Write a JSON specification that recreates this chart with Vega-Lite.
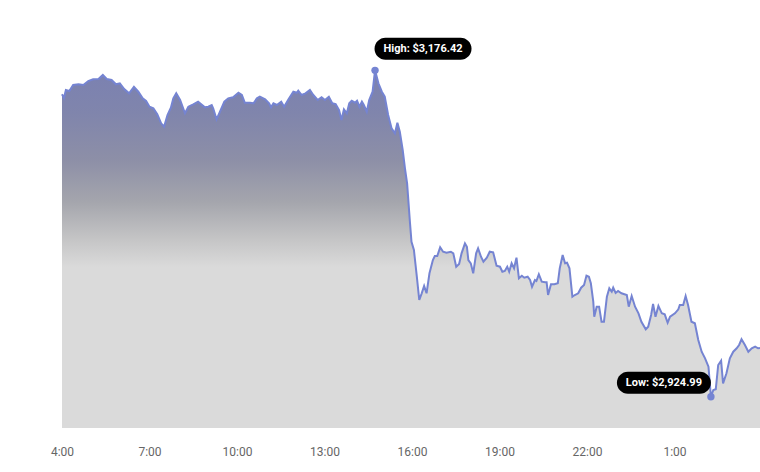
{
  "$schema": "https://vega.github.io/schema/vega-lite/v6.json",
  "width": 698,
  "height": 408,
  "autosize": {"type": "none"},
  "padding": {"left": 62, "top": 20, "right": 0, "bottom": 44},
  "background": "#ffffff",
  "config": {"view": {"stroke": null}, "font": "Roboto"},
  "data": {"values": [
    {"t":"2024-01-01T04:00","p":3157.95},{"t":"2024-01-01T04:04","p":3155.10},{"t":"2024-01-01T04:08","p":3161.26},{"t":"2024-01-01T04:15","p":3160.49},{"t":"2024-01-01T04:23","p":3165.11},{"t":"2024-01-01T04:34","p":3165.65},{"t":"2024-01-01T04:44","p":3165.11},{"t":"2024-01-01T04:54","p":3168.19},{"t":"2024-01-01T05:04","p":3169.50},{"t":"2024-01-01T05:15","p":3169.73},{"t":"2024-01-01T05:24","p":3172.82},{"t":"2024-01-01T05:32","p":3169.73},{"t":"2024-01-01T05:42","p":3168.96},{"t":"2024-01-01T05:51","p":3165.65},{"t":"2024-01-01T05:59","p":3166.42},{"t":"2024-01-01T06:08","p":3162.03},{"t":"2024-01-01T06:18","p":3158.72},{"t":"2024-01-01T06:28","p":3163.80},{"t":"2024-01-01T06:37","p":3159.95},{"t":"2024-01-01T06:46","p":3154.87},{"t":"2024-01-01T06:53","p":3152.79},{"t":"2024-01-01T07:00","p":3148.40},{"t":"2024-01-01T07:08","p":3147.16},{"t":"2024-01-01T07:16","p":3142.54},{"t":"2024-01-01T07:24","p":3135.61},{"t":"2024-01-01T07:30","p":3132.99},{"t":"2024-01-01T07:37","p":3142.00},{"t":"2024-01-01T07:44","p":3147.63},{"t":"2024-01-01T07:49","p":3154.87},{"t":"2024-01-01T07:55","p":3158.72},{"t":"2024-01-01T08:03","p":3153.56},{"t":"2024-01-01T08:13","p":3143.32},{"t":"2024-01-01T08:20","p":3148.40},{"t":"2024-01-01T08:30","p":3150.25},{"t":"2024-01-01T08:40","p":3152.25},{"t":"2024-01-01T08:54","p":3147.94},{"t":"2024-01-01T09:01","p":3148.40},{"t":"2024-01-01T09:08","p":3149.71},{"t":"2024-01-01T09:11","p":3147.16},{"t":"2024-01-01T09:18","p":3138.69},{"t":"2024-01-01T09:25","p":3144.54},{"t":"2024-01-01T09:34","p":3152.25},{"t":"2024-01-01T09:42","p":3154.87},{"t":"2024-01-01T09:52","p":3155.64},{"t":"2024-01-01T10:03","p":3159.18},{"t":"2024-01-01T10:10","p":3157.41},{"t":"2024-01-01T10:16","p":3151.48},{"t":"2024-01-01T10:27","p":3151.48},{"t":"2024-01-01T10:34","p":3151.02},{"t":"2024-01-01T10:41","p":3154.87},{"t":"2024-01-01T10:47","p":3156.10},{"t":"2024-01-01T10:58","p":3154.10},{"t":"2024-01-01T11:06","p":3151.02},{"t":"2024-01-01T11:10","p":3147.94},{"t":"2024-01-01T11:15","p":3151.02},{"t":"2024-01-01T11:22","p":3149.71},{"t":"2024-01-01T11:31","p":3152.25},{"t":"2024-01-01T11:37","p":3148.40},{"t":"2024-01-01T11:46","p":3154.10},{"t":"2024-01-01T11:56","p":3159.95},{"t":"2024-01-01T12:03","p":3159.18},{"t":"2024-01-01T12:06","p":3160.72},{"t":"2024-01-01T12:13","p":3157.41},{"t":"2024-01-01T12:21","p":3158.72},{"t":"2024-01-01T12:30","p":3161.26},{"t":"2024-01-01T12:37","p":3157.41},{"t":"2024-01-01T12:46","p":3153.56},{"t":"2024-01-01T12:54","p":3155.64},{"t":"2024-01-01T13:01","p":3153.56},{"t":"2024-01-01T13:09","p":3156.10},{"t":"2024-01-01T13:16","p":3151.02},{"t":"2024-01-01T13:23","p":3150.48},{"t":"2024-01-01T13:30","p":3145.86},{"t":"2024-01-01T13:35","p":3138.15},{"t":"2024-01-01T13:40","p":3146.39},{"t":"2024-01-01T13:46","p":3143.32},{"t":"2024-01-01T13:51","p":3151.02},{"t":"2024-01-01T13:56","p":3153.02},{"t":"2024-01-01T14:03","p":3151.48},{"t":"2024-01-01T14:07","p":3153.02},{"t":"2024-01-01T14:12","p":3148.40},{"t":"2024-01-01T14:17","p":3152.25},{"t":"2024-01-01T14:21","p":3149.71},{"t":"2024-01-01T14:27","p":3144.54},{"t":"2024-01-01T14:32","p":3153.56},{"t":"2024-01-01T14:39","p":3159.95},{"t":"2024-01-01T14:44","p":3176.42,"kind":"High"},{"t":"2024-01-01T14:51","p":3166.42},{"t":"2024-01-01T14:58","p":3159.95},{"t":"2024-01-01T15:04","p":3156.10},{"t":"2024-01-01T15:11","p":3142.00},{"t":"2024-01-01T15:18","p":3131.76},{"t":"2024-01-01T15:25","p":3127.91},{"t":"2024-01-01T15:30","p":3136.07},{"t":"2024-01-01T15:35","p":3129.14},{"t":"2024-01-01T15:41","p":3115.04},{"t":"2024-01-01T15:46","p":3099.64},{"t":"2024-01-01T15:50","p":3089.39},{"t":"2024-01-01T15:56","p":3058.58},{"t":"2024-01-01T15:59","p":3044.41},{"t":"2024-01-01T16:04","p":3038.01},{"t":"2024-01-01T16:10","p":3017.45},{"t":"2024-01-01T16:15","p":2999.50},{"t":"2024-01-01T16:20","p":3004.66},{"t":"2024-01-01T16:25","p":3010.28},{"t":"2024-01-01T16:30","p":3004.66},{"t":"2024-01-01T16:36","p":3020.06},{"t":"2024-01-01T16:43","p":3030.31},{"t":"2024-01-01T16:47","p":3033.39},{"t":"2024-01-01T16:52","p":3033.39},{"t":"2024-01-01T16:58","p":3040.09},{"t":"2024-01-01T17:04","p":3036.70},{"t":"2024-01-01T17:11","p":3035.93},{"t":"2024-01-01T17:20","p":3036.70},{"t":"2024-01-01T17:25","p":3035.47},{"t":"2024-01-01T17:31","p":3025.15},{"t":"2024-01-01T17:37","p":3027.23},{"t":"2024-01-01T17:42","p":3035.47},{"t":"2024-01-01T17:49","p":3043.17},{"t":"2024-01-01T17:53","p":3040.56},{"t":"2024-01-01T17:56","p":3030.31},{"t":"2024-01-01T18:01","p":3027.77},{"t":"2024-01-01T18:06","p":3020.06},{"t":"2024-01-01T18:12","p":3035.47},{"t":"2024-01-01T18:16","p":3039.32},{"t":"2024-01-01T18:22","p":3032.85},{"t":"2024-01-01T18:27","p":3029.00},{"t":"2024-01-01T18:34","p":3032.08},{"t":"2024-01-01T18:40","p":3036.70},{"t":"2024-01-01T18:47","p":3036.24},{"t":"2024-01-01T18:54","p":3025.92},{"t":"2024-01-01T19:01","p":3025.15},{"t":"2024-01-01T19:06","p":3021.30},{"t":"2024-01-01T19:11","p":3021.84},{"t":"2024-01-01T19:16","p":3025.15},{"t":"2024-01-01T19:20","p":3021.30},{"t":"2024-01-01T19:25","p":3027.77},{"t":"2024-01-01T19:30","p":3023.92},{"t":"2024-01-01T19:35","p":3032.08},{"t":"2024-01-01T19:40","p":3016.21},{"t":"2024-01-01T19:46","p":3018.22},{"t":"2024-01-01T19:51","p":3016.68},{"t":"2024-01-01T19:58","p":3017.45},{"t":"2024-01-01T20:03","p":3014.90},{"t":"2024-01-01T20:07","p":3009.74},{"t":"2024-01-01T20:13","p":3014.90},{"t":"2024-01-01T20:16","p":3014.13},{"t":"2024-01-01T20:21","p":3019.30},{"t":"2024-01-01T20:27","p":3013.59},{"t":"2024-01-01T20:34","p":3013.13},{"t":"2024-01-01T20:37","p":3013.13},{"t":"2024-01-01T20:40","p":3003.35},{"t":"2024-01-01T20:46","p":3011.59},{"t":"2024-01-01T20:53","p":3011.59},{"t":"2024-01-01T21:00","p":3012.36},{"t":"2024-01-01T21:04","p":3023.92},{"t":"2024-01-01T21:10","p":3034.16},{"t":"2024-01-01T21:15","p":3027.77},{"t":"2024-01-01T21:19","p":3028.23},{"t":"2024-01-01T21:24","p":3023.92},{"t":"2024-01-01T21:30","p":3002.04},{"t":"2024-01-01T21:35","p":3003.35},{"t":"2024-01-01T21:42","p":3004.66},{"t":"2024-01-01T21:48","p":3008.97},{"t":"2024-01-01T21:54","p":3011.05},{"t":"2024-01-01T21:59","p":3018.22},{"t":"2024-01-01T22:04","p":3017.45},{"t":"2024-01-01T22:08","p":3012.36},{"t":"2024-01-01T22:13","p":2998.19},{"t":"2024-01-01T22:15","p":2986.64},{"t":"2024-01-01T22:20","p":2994.34},{"t":"2024-01-01T22:25","p":2994.34},{"t":"2024-01-01T22:30","p":2982.78},{"t":"2024-01-01T22:35","p":2982.78},{"t":"2024-01-01T22:41","p":3002.04},{"t":"2024-01-01T22:46","p":3008.51},{"t":"2024-01-01T22:51","p":3005.89},{"t":"2024-01-01T22:54","p":3008.97},{"t":"2024-01-01T22:59","p":3004.89},{"t":"2024-01-01T23:04","p":3006.43},{"t":"2024-01-01T23:11","p":3004.66},{"t":"2024-01-01T23:22","p":3003.35},{"t":"2024-01-01T23:26","p":2994.34},{"t":"2024-01-01T23:32","p":3002.58},{"t":"2024-01-01T23:39","p":2994.34},{"t":"2024-01-01T23:46","p":2989.25},{"t":"2024-01-01T23:52","p":2982.78},{"t":"2024-01-02T00:01","p":2976.93},{"t":"2024-01-02T00:06","p":2978.93},{"t":"2024-01-02T00:12","p":2987.94},{"t":"2024-01-02T00:16","p":2996.42},{"t":"2024-01-02T00:21","p":2986.64},{"t":"2024-01-02T00:27","p":2994.88},{"t":"2024-01-02T00:34","p":2989.25},{"t":"2024-01-02T00:40","p":2988.48},{"t":"2024-01-02T00:46","p":2982.01},{"t":"2024-01-02T00:51","p":2986.64},{"t":"2024-01-02T01:01","p":2989.25},{"t":"2024-01-02T01:08","p":2992.33},{"t":"2024-01-02T01:11","p":2995.65},{"t":"2024-01-02T01:18","p":2995.65},{"t":"2024-01-02T01:23","p":3002.58},{"t":"2024-01-02T01:28","p":2995.65},{"t":"2024-01-02T01:35","p":2982.78},{"t":"2024-01-02T01:42","p":2981.55},{"t":"2024-01-02T01:49","p":2968.69},{"t":"2024-01-02T01:56","p":2959.67},{"t":"2024-01-02T02:03","p":2954.59},{"t":"2024-01-02T02:10","p":2948.12},{"t":"2024-01-02T02:15","p":2924.99,"kind":"Low"},{"t":"2024-01-02T02:20","p":2930.17},{"t":"2024-01-02T02:25","p":2930.71},{"t":"2024-01-02T02:30","p":2949.43},{"t":"2024-01-02T02:36","p":2952.74},{"t":"2024-01-02T02:40","p":2935.33},{"t":"2024-01-02T02:47","p":2943.04},{"t":"2024-01-02T02:54","p":2954.59},{"t":"2024-01-02T03:01","p":2959.67},{"t":"2024-01-02T03:08","p":2962.29},{"t":"2024-01-02T03:13","p":2964.83},{"t":"2024-01-02T03:18","p":2969.23},{"t":"2024-01-02T03:25","p":2964.83},{"t":"2024-01-02T03:32","p":2959.67},{"t":"2024-01-02T03:39","p":2962.29},{"t":"2024-01-02T03:46","p":2963.53},{"t":"2024-01-02T03:52","p":2962.29},{"t":"2024-01-02T03:56","p":2962.52}
  ]},
  "encoding": {
    "x": {
      "field": "t", "type": "temporal",
      "scale": {"domain": [{"year": 2024, "month": 1, "date": 1, "hours": 4}, {"year": 2024, "month": 1, "date": 2, "hours": 3, "minutes": 56}], "nice": false},
      "axis": {
        "title": null, "ticks": false, "domain": false, "grid": false,
        "format": "%-H:%M", "labelFont": "Roboto", "labelFontSize": 12, "labelColor": "#666666",
        "labelPadding": 18, "labelFlush": false, "labelOverlap": false,
        "values": [
          {"year": 2024, "month": 1, "date": 1, "hours": 4},
          {"year": 2024, "month": 1, "date": 1, "hours": 7},
          {"year": 2024, "month": 1, "date": 1, "hours": 10},
          {"year": 2024, "month": 1, "date": 1, "hours": 13},
          {"year": 2024, "month": 1, "date": 1, "hours": 16},
          {"year": 2024, "month": 1, "date": 1, "hours": 19},
          {"year": 2024, "month": 1, "date": 1, "hours": 22},
          {"year": 2024, "month": 1, "date": 2, "hours": 1}
        ]
      }
    },
    "y": {
      "field": "p", "type": "quantitative",
      "scale": {"domain": [2900.9, 3215.2], "nice": false, "zero": false},
      "axis": null
    }
  },
  "layer": [
    {
      "mark": {
        "type": "area", "stroke": null,
        "fill": {"gradient": "linear", "x1": 0, "y1": 0, "x2": 0, "y2": 1,
          "stops": [
            {"offset": 0, "color": "#7b81b1"},
            {"offset": 0.12, "color": "#8085ac"},
            {"offset": 0.25, "color": "#8d8fa7"},
            {"offset": 0.37, "color": "#a5a6ad"},
            {"offset": 0.47, "color": "#c4c4c5"},
            {"offset": 0.55, "color": "#dadada"},
            {"offset": 1, "color": "#dadada"}
          ]}
      },
      "encoding": {"y2": {"datum": 2900.9}}
    },
    {"mark": {"type": "line", "stroke": "#7584d2", "strokeWidth": 2}},
    {
      "transform": [{"filter": "datum.kind"}],
      "mark": {"type": "point", "filled": true, "size": 55, "color": "#7584d2", "opacity": 1}
    },
    {
      "transform": [{"filter": "datum.kind == 'High'"}],
      "mark": {"type": "point", "filled": true, "opacity": 1, "color": "#000000", "size": 9409,
        "shape": "M-0.7732,-0.2268L0.7732,-0.2268A0.2268,0.2268 0 0 1 0.7732,0.2268L-0.7732,0.2268A0.2268,0.2268 0 0 1 -0.7732,-0.2268Z",
        "xOffset": 48, "yOffset": -21.5}
    },
    {
      "transform": [{"filter": "datum.kind == 'Low'"}],
      "mark": {"type": "point", "filled": true, "opacity": 1, "color": "#000000", "size": 8836,
        "shape": "M-0.766,-0.234L0.766,-0.234A0.234,0.234 0 0 1 0.766,0.234L-0.766,0.234A0.234,0.234 0 0 1 -0.766,-0.234Z",
        "xOffset": -47, "yOffset": -14}
    },
    {
      "transform": [
        {"filter": "datum.kind == 'High'"},
        {"calculate": "datum.kind + ': ' + format(datum.p, '$,.2f')", "as": "label"}
      ],
      "mark": {"type": "text", "color": "#ffffff", "font": "Roboto", "fontWeight": "bold", "fontSize": 11, "align": "center", "baseline": "middle", "dx": 48, "dy": -21.5},
      "encoding": {"text": {"field": "label"}}
    },
    {
      "transform": [
        {"filter": "datum.kind == 'Low'"},
        {"calculate": "datum.kind + ': ' + format(datum.p, '$,.2f')", "as": "label"}
      ],
      "mark": {"type": "text", "color": "#ffffff", "font": "Roboto", "fontWeight": "bold", "fontSize": 11, "align": "center", "baseline": "middle", "dx": -47, "dy": -14},
      "encoding": {"text": {"field": "label"}}
    }
  ]
}
